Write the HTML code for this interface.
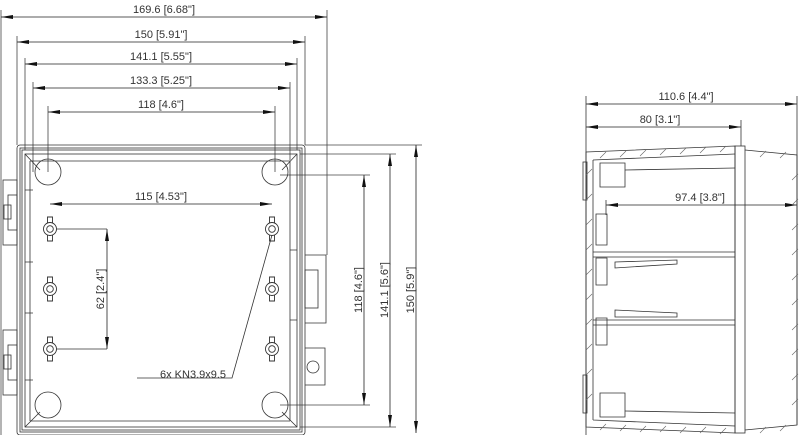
<!DOCTYPE html>
<html><head><meta charset="utf-8"><style>
html,body{margin:0;padding:0;background:#fff}
svg{display:block}
text{font-family:"Liberation Sans",sans-serif;font-size:11px;fill:#333}
</style></head><body>
<svg width="800" height="435" viewBox="0 0 800 435" xmlns="http://www.w3.org/2000/svg">
<defs>
<marker id="a" markerWidth="12" markerHeight="6" refX="12" refY="3" orient="auto-start-reverse" markerUnits="userSpaceOnUse"><path d="M0,1 L12,3 L0,5z" fill="#111"/></marker>
<g id="nut" stroke="#333" stroke-width="0.9" fill="none"><path d="M-2.5,-5 L-2.5,-12 L2.5,-12 L2.5,-5 M-2.5,5 L-2.5,12 L2.5,12 L2.5,5"/><circle r="6.5" fill="#fff"/><circle r="3.3"/></g>
</defs>
<g stroke="#444" stroke-width="0.8" fill="none">
<line x1="1" y1="10" x2="1" y2="435"/>
<line x1="327" y1="10" x2="327" y2="255"/>
<line x1="17" y1="36" x2="17" y2="145"/>
<line x1="305" y1="36" x2="305" y2="145"/>
<line x1="25" y1="58" x2="25" y2="150"/>
<line x1="297" y1="58" x2="297" y2="150"/>
<line x1="33" y1="82" x2="33" y2="172"/>
<line x1="290" y1="82" x2="290" y2="160"/>
<line x1="48" y1="106" x2="48" y2="172"/>
<line x1="275" y1="106" x2="275" y2="172"/>
<line x1="305" y1="145" x2="422" y2="145"/>
<line x1="300" y1="154" x2="396" y2="154"/>
<line x1="280" y1="175" x2="370" y2="175"/>
<line x1="280" y1="405" x2="370" y2="405"/>
<line x1="300" y1="427" x2="396" y2="427"/>
</g>
<g stroke="#222" stroke-width="0.8" marker-start="url(#a)" marker-end="url(#a)">
<line x1="1" y1="17" x2="327" y2="17"/>
<line x1="17" y1="42" x2="305" y2="42"/>
<line x1="25" y1="64" x2="297" y2="64"/>
<line x1="33" y1="88" x2="290" y2="88"/>
<line x1="48" y1="112" x2="275" y2="112"/>
<line x1="364" y1="175" x2="364" y2="405"/>
<line x1="390" y1="154" x2="390" y2="427"/>
<line x1="416" y1="145" x2="416" y2="433"/>
<line x1="50" y1="204" x2="272" y2="204"/>
<line x1="107" y1="229" x2="107" y2="349"/>
<line x1="586" y1="104" x2="797" y2="104"/>
<line x1="586" y1="127" x2="741" y2="127"/>
<line x1="606" y1="205" x2="797" y2="205"/>
</g>
<text x="164" y="13" text-anchor="middle">169.6 [6.68"]</text>
<text x="161" y="38" text-anchor="middle">150 [5.91"]</text>
<text x="161" y="60" text-anchor="middle">141.1 [5.55"]</text>
<text x="161" y="84" text-anchor="middle">133.3 [5.25"]</text>
<text x="161" y="108" text-anchor="middle">118 [4.6"]</text>
<text x="161" y="200" text-anchor="middle">115 [4.53"]</text>
<text transform="translate(104,289) rotate(-90)" text-anchor="middle">62 [2.4"]</text>
<text transform="translate(362,290) rotate(-90)" text-anchor="middle">118 [4.6"]</text>
<text transform="translate(388,290) rotate(-90)" text-anchor="middle">141.1 [5.6"]</text>
<text transform="translate(414,290) rotate(-90)" text-anchor="middle">150 [5.9"]</text>
<text x="686" y="100" text-anchor="middle">110.6 [4.4"]</text>
<text x="660" y="123" text-anchor="middle">80 [3.1"]</text>
<text x="700" y="201" text-anchor="middle">97.4 [3.8"]</text>
<text x="160" y="378">6x KN3.9x9.5</text>
<g stroke="#333" stroke-width="0.8" fill="none">
<rect x="17" y="145" width="288" height="290" rx="3"/>
<rect x="20" y="148" width="282" height="284"/>
<rect x="22" y="150" width="278" height="280"/>
<rect x="25" y="154" width="272" height="273"/>
<line x1="30" y1="161" x2="290" y2="161"/>
<line x1="30" y1="421" x2="290" y2="421"/>
<line x1="30" y1="161" x2="30" y2="421"/>
<line x1="290" y1="161" x2="290" y2="421"/>
<path d="M25,154 L40,170 M297,154 L282,170 M25,427 L40,412 M297,427 L282,412"/>
<circle cx="48" cy="172" r="13"/><circle cx="275" cy="172" r="13"/>
<circle cx="48" cy="405" r="13"/><circle cx="275" cy="405" r="13"/>
<rect x="3" y="180" width="14" height="65"/><rect x="8" y="195" width="9" height="35"/><rect x="4" y="205" width="7" height="14"/>
<rect x="3" y="330" width="14" height="65"/><rect x="8" y="345" width="9" height="35"/><rect x="4" y="355" width="7" height="14"/>
<path d="M305,255 L326,255 L326,323 L305,323"/><rect x="305" y="270" width="13" height="38"/>
<path d="M305,348 L325,348 L325,385 L305,385"/><circle cx="313" cy="367" r="6"/>
<path d="M290,250 L297,250 M290,320 L297,320 M25,190 L33,190 M25,262 L33,262 M25,313 L33,313 M25,380 L33,380"/>
<path d="M272,235 L232,378 L137,378"/>
<line x1="50" y1="229" x2="107" y2="229"/><line x1="50" y1="349" x2="107" y2="349"/>
</g>
<use href="#nut" x="50" y="229"/><use href="#nut" x="50" y="289"/><use href="#nut" x="50" y="349"/>
<use href="#nut" x="272" y="229"/><use href="#nut" x="272" y="289"/><use href="#nut" x="272" y="349"/>
<g stroke="#333" stroke-width="0.8" fill="none">
<line x1="586" y1="96" x2="586" y2="435"/>
<line x1="797" y1="96" x2="797" y2="425"/>
<line x1="741" y1="120" x2="741" y2="146"/>
<line x1="606" y1="200" x2="606" y2="215"/>
<path d="M586,152 L735,146 L735,433 L586,427 Z"/>
<path d="M593,160 L735,154 M593,420 L735,426 M593,160 L593,420"/>
<rect x="735" y="146" width="10" height="287"/>
<path d="M745,150 L797,155 L797,425 L745,430"/>
<path d="M600,163 L625,163 L625,187 L600,187 Z M596,214 L607,214 L607,245 L596,245 Z M596,258 L607,258 L607,285 L596,285 Z M596,318 L607,318 L607,345 L596,345 Z M600,393 L625,393 L625,417 L600,417 Z"/>
<line x1="625" y1="170" x2="735" y2="168"/>
<line x1="625" y1="411" x2="735" y2="413"/>
<line x1="593" y1="252" x2="735" y2="252"/><line x1="593" y1="257" x2="735" y2="257"/>
<line x1="593" y1="320" x2="735" y2="320"/><line x1="593" y1="325" x2="735" y2="325"/>
<path d="M615,262 L677,260 L677,264 L615,268 Z M615,310 L677,313 L677,317 L615,317 Z"/>
<rect x="583" y="162" width="4" height="38"/><rect x="583" y="375" width="4" height="38"/>
</g>
<g stroke="#666" stroke-width="0.6">
<path d="M600,158 l6,-6 M620,157 l6,-6 M640,156 l6,-6 M660,155 l6,-6 M680,154 l6,-6 M700,153 l6,-6 M720,152 l6,-6 M760,157 l6,-6 M780,158 l6,-6
M600,430 l6,-6 M620,431 l6,-6 M640,432 l6,-6 M660,432 l6,-6 M680,433 l6,-6 M700,433 l6,-6 M720,434 l6,-6 M760,433 l6,-6 M780,431 l6,-6
M586,175 l6,-6 M586,200 l6,-6 M586,225 l6,-6 M586,250 l6,-6 M586,275 l6,-6 M586,300 l6,-6 M586,325 l6,-6 M586,350 l6,-6 M586,375 l6,-6 M586,400 l6,-6
M792,180 l6,-6 M792,205 l6,-6 M792,230 l6,-6 M792,255 l6,-6 M792,280 l6,-6 M792,305 l6,-6 M792,330 l6,-6 M792,355 l6,-6 M792,380 l6,-6 M792,405 l6,-6"/>
</g>
</svg>
</body></html>
